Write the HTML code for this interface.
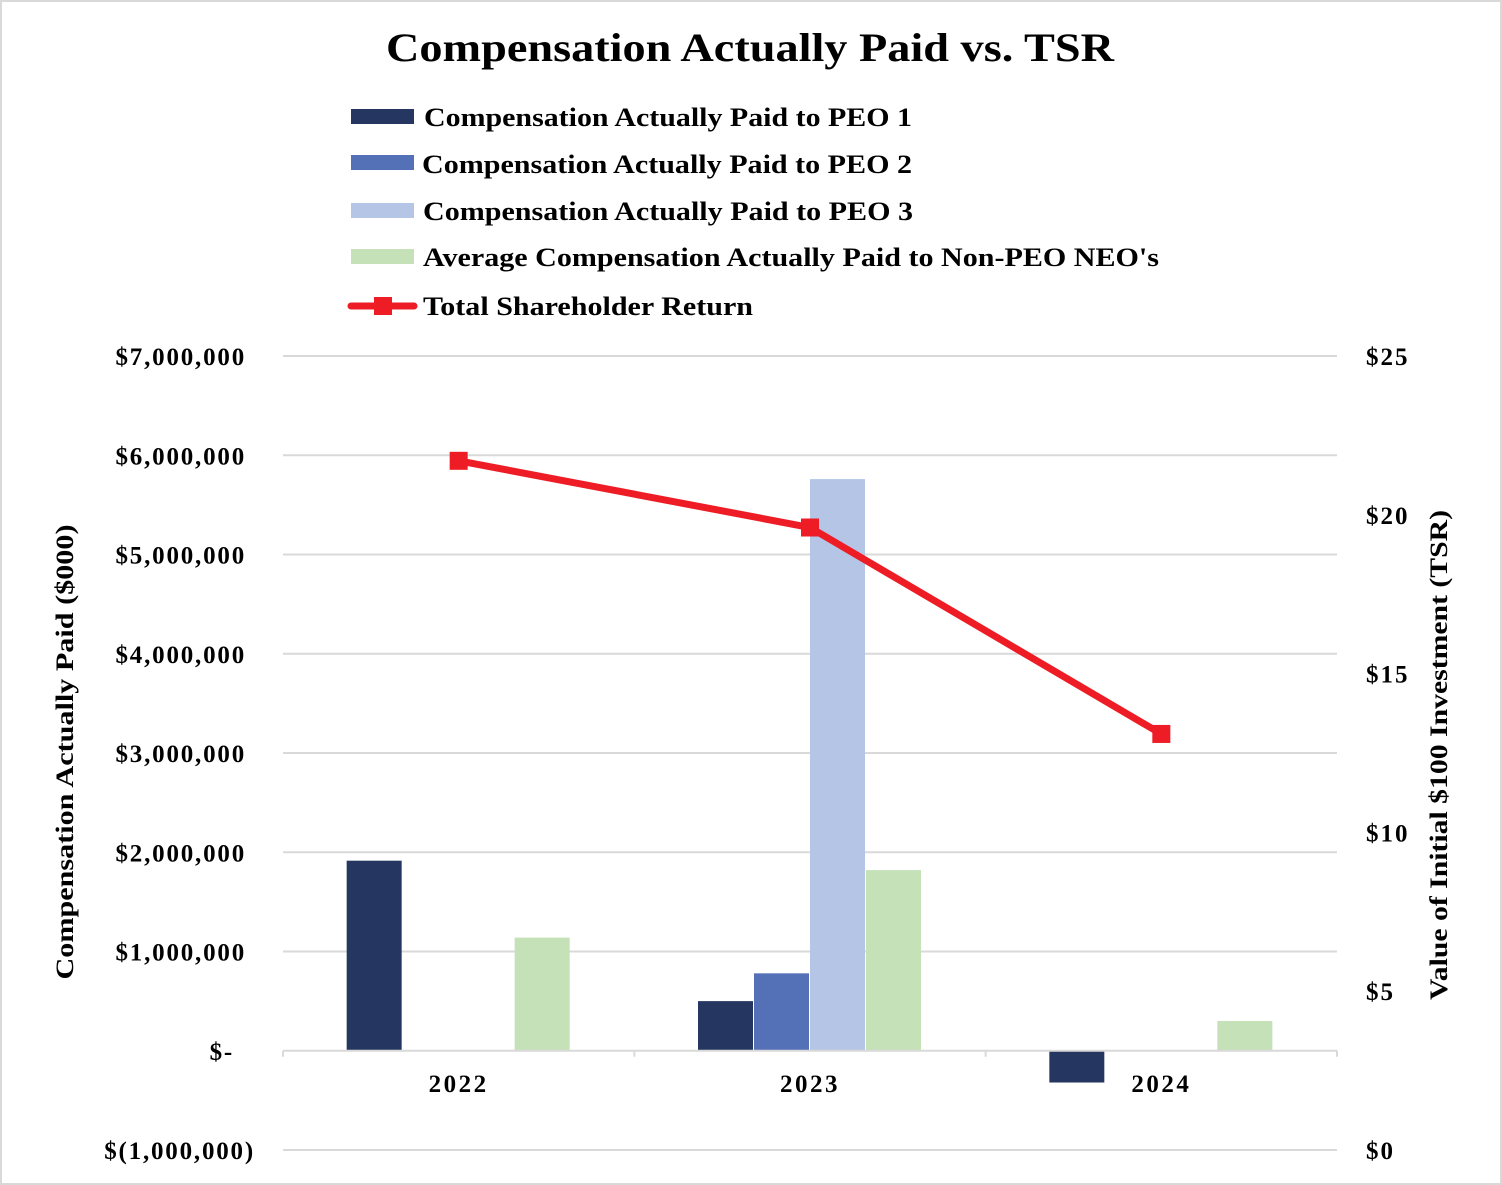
<!DOCTYPE html>
<html><head><meta charset="utf-8"><style>
html,body{margin:0;padding:0;background:#fff;}
svg{display:block;font-family:"Liberation Serif",serif;font-weight:bold;}
</style></head><body>
<svg id="chart" width="1502" height="1185" viewBox="0 0 1502 1185" xmlns="http://www.w3.org/2000/svg">
<rect x="1" y="1" width="1500" height="1183" fill="#fff" stroke="#d9d9d9" stroke-width="2"/>
<text x="750" y="61" text-anchor="middle" font-size="40" textLength="728" lengthAdjust="spacingAndGlyphs">Compensation Actually Paid vs. TSR</text>
<g>
<g><rect x="351" y="109" width="63" height="15" fill="#253660"/><text x="424" y="126" font-size="26" textLength="488" lengthAdjust="spacingAndGlyphs">Compensation Actually Paid to PEO 1</text></g>
<g><rect x="351" y="155" width="63" height="15" fill="#5470b6"/><text x="422" y="173" font-size="26" textLength="490" lengthAdjust="spacingAndGlyphs">Compensation Actually Paid to PEO 2</text></g>
<g><rect x="351" y="203" width="63" height="15" fill="#b4c5e6"/><text x="423" y="220" font-size="26" textLength="490" lengthAdjust="spacingAndGlyphs">Compensation Actually Paid to PEO 3</text></g>
<g><rect x="351" y="249" width="63" height="15" fill="#c4e1b8"/><text x="423" y="266" font-size="26" textLength="736" lengthAdjust="spacingAndGlyphs">Average Compensation Actually Paid to Non-PEO NEO's</text></g>
<g><line x1="351" y1="306" x2="414" y2="306" stroke="#ee1c24" stroke-width="7" stroke-linecap="round"/><rect x="374" y="297" width="18" height="18" fill="#ee1c24"/><text x="423" y="315" font-size="26" textLength="330" lengthAdjust="spacingAndGlyphs">Total Shareholder Return</text></g>
</g>
<g id="grid"></g>
<g id="bars"></g>
<g id="axes"></g>
<g id="line"></g>
<text transform="translate(73,752) rotate(-90)" text-anchor="middle" font-size="25" textLength="455" lengthAdjust="spacingAndGlyphs">Compensation Actually Paid ($000)</text>
<text transform="translate(1447,755) rotate(-90)" text-anchor="middle" font-size="25" textLength="490" lengthAdjust="spacingAndGlyphs">Value of Initial $100 Investment (TSR)</text>
</svg>
<script>
const categories = ["2022", "2023", "2024"];
const peo1 = [1915000, 500000, -320000];
const peo2 = [null, 780000, null];
const peo3 = [null, 5760000, null];
const nonPeo = [1140000, 1820000, 300000];
const tsr = [21.7, 19.6, 13.1];
const leftTicks = [7000000, 6000000, 5000000, 4000000, 3000000, 2000000, 1000000, 0, -1000000];
const leftTickLabels = ["$7,000,000","$6,000,000","$5,000,000","$4,000,000","$3,000,000","$2,000,000","$1,000,000","$-","$(1,000,000)"];
const rightTicks = [25, 20, 15, 10, 5, 0];
const rightTickLabels = ["$25","$20","$15","$10","$5","$0"];

const NS = "http://www.w3.org/2000/svg";
const X0 = 283, X1 = 1337, YT = 356, YB = 1150;
const yL = v => YB - (v - (-1000000)) / 8000000 * (YB - YT);
const yR = v => YB - v / 25 * (YB - YT);
const band = (X1 - X0) / categories.length;
const xC = i => X0 + band * (i + 0.5);
function mk(tag, attrs, parent) { const e = document.createElementNS(NS, tag); for (const k in attrs) e.setAttribute(k, attrs[k]); parent.appendChild(e); return e; }
const grid = document.getElementById('grid'), axes = document.getElementById('axes'), bars = document.getElementById('bars'), line = document.getElementById('line');

leftTicks.forEach((v, i) => {
  if (v !== 0) {
    const g = mk('line', {x1: X0, x2: X1, y1: yL(v), y2: yL(v), stroke: '#d9d9d9', 'stroke-width': 2}, grid);
    
    
  }
  const lab = leftTickLabels[i];
  let xe = 246;
  if (v < 0) xe = 255;
  if (v === 0) xe = 234;
  const t = mk('text', {x: xe, y: yL(v) + 9, 'text-anchor': 'end', 'font-size': 25, 'letter-spacing': 1.8}, axes);
  t.textContent = lab;
  
  
});
rightTicks.forEach((v, i) => {
  const t = mk('text', {x: 1366, y: yR(v) + 9, 'font-size': 25, 'letter-spacing': 2}, axes);
  t.textContent = rightTickLabels[i];
  
  
});
const ax = mk('line', {x1: X0, x2: X1, y1: yL(0), y2: yL(0), stroke: '#d9d9d9', 'stroke-width': 2}, axes);


for (let i = 0; i <= categories.length; i++) {
  const tk = mk('line', {x1: X0 + band * i, x2: X0 + band * i, y1: yL(0), y2: yL(0) + 6, stroke: '#d9d9d9', 'stroke-width': 2}, axes);
  
  
}
categories.forEach((c, i) => {
  const t = mk('text', {x: xC(i), y: 1092, 'text-anchor': 'middle', 'font-size': 25, 'letter-spacing': 2.5}, axes);
  t.textContent = c;
  
  
});

const series = [[peo1, '#253660', 'bar-peo1'], [peo2, '#5470b6', 'bar-peo2'], [peo3, '#b4c5e6', 'bar-peo3'], [nonPeo, '#c4e1b8', 'bar-non-peo']];
const bw = 56;
series.forEach(([vals, col, name], s) => {
  vals.forEach((v, i) => {
    if (v === null) return;
    const x = xC(i) - 2 * bw + s * bw;
    const y0 = yL(0), y1 = yL(v);
    const r = mk('rect', {x: x, y: Math.min(y0, y1), width: bw - 1, height: Math.abs(y0 - y1), fill: col}, bars);
    
    
  });
});

const pts = tsr.map((v, i) => xC(i) + ',' + yR(v)).join(' ');
const pl = mk('polyline', {points: pts, fill: 'none', stroke: '#ee1c24', 'stroke-width': 7, 'stroke-linejoin': 'round'}, line);


tsr.forEach((v, i) => {
  const m = mk('rect', {x: xC(i) - 9, y: yR(v) - 9, width: 18, height: 18, fill: '#ee1c24'}, line);
  
  
});
</script>
</body></html>
